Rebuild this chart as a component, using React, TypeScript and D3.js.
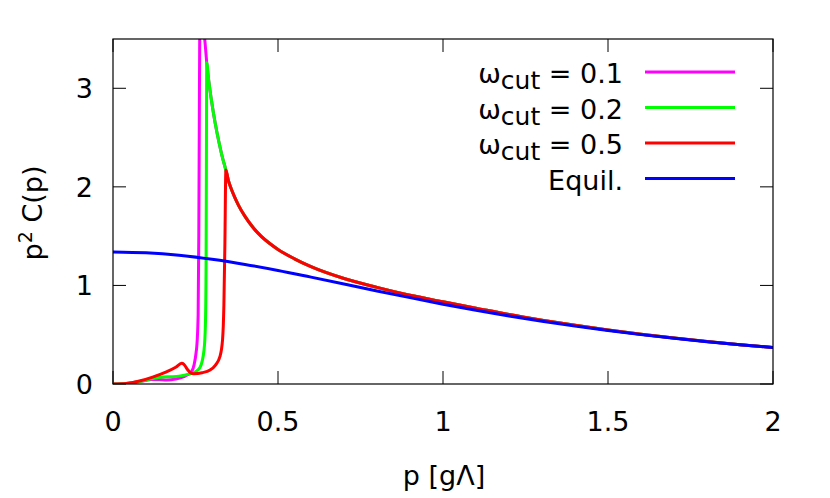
import React from 'react';
import * as d3 from 'd3';

const width = 830;
const height = 498;
const margin = { left: 113, right: 57, top: 39, bottom: 114 };

const xTicks = [0, 0.5, 1, 1.5, 2];
const yTicks = [0, 1, 2, 3];

// shared tail (all cut-off curves fall onto this after p ~ 0.34)
const tailP = [0.342, 0.35, 0.36, 0.37, 0.38, 0.4, 0.425, 0.45, 0.475, 0.5, 0.55, 0.6, 0.7, 0.8, 0.9, 1.0, 1.1, 1.2, 1.3, 1.4, 1.5, 1.6, 1.7, 1.8, 1.9, 2.0];
const tailC = [2.17, 2.06, 1.965, 1.885, 1.815, 1.7, 1.585, 1.495, 1.425, 1.365, 1.27, 1.19, 1.07, 0.98, 0.9, 0.835, 0.77, 0.705, 0.648, 0.595, 0.547, 0.504, 0.466, 0.431, 0.399, 0.37];

// green decay between its peak and the red peak
const midP = [0.29, 0.3, 0.31, 0.32, 0.33];
const midC = [3.08, 2.84, 2.64, 2.47, 2.32];

const p01 = [0, 0.04, 0.08, 0.12, 0.14, 0.162, 0.19, 0.215, 0.238, 0.253, 0.258, 0.26, 0.262, 0.265, 0.27, 0.276, 0.28, 0.284];
const c01 = [0, 0.005, 0.025, 0.045, 0.045, 0.04, 0.05, 0.075, 0.125, 0.35, 0.7, 1.5, 3.0, 4.5, 4.2, 3.6, 3.42, 3.26];

const p02 = [0, 0.04, 0.08, 0.12, 0.15, 0.178, 0.2, 0.23, 0.25, 0.264, 0.276, 0.28, 0.282, 0.283, 0.284];
const c02 = [0, 0.005, 0.025, 0.055, 0.07, 0.074, 0.08, 0.1, 0.125, 0.17, 0.35, 0.6, 1.2, 2.2, 3.26];

const p05 = [0, 0.04, 0.08, 0.12, 0.16, 0.19, 0.208, 0.215, 0.225, 0.235, 0.245, 0.27, 0.294, 0.31, 0.324, 0.332, 0.336, 0.339];
const c05 = [0, 0.005, 0.03, 0.07, 0.12, 0.17, 0.21, 0.2, 0.15, 0.115, 0.105, 0.115, 0.142, 0.19, 0.277, 0.45, 0.8, 1.4];

const pEq = [0, 0.1, 0.2, 0.3, 0.4, 0.5, 0.6, 0.7, 0.8, 0.9, 1.0, 1.1, 1.2, 1.3, 1.4, 1.5, 1.6, 1.7, 1.8, 1.9, 2.0];
const cEq = [1.34, 1.331, 1.306, 1.265, 1.213, 1.152, 1.084, 1.015, 0.944, 0.876, 0.81, 0.748, 0.69, 0.636, 0.587, 0.542, 0.501, 0.464, 0.429, 0.398, 0.37];

const cutLabels = ['0.1', '0.2', '0.5'];
const colors = ['#ff00ff', '#00ff00', '#ff0000', '#0000ff'];

const zip = (ps: number[], cs: number[]) => ps.map((p, i) => [p, cs[i]] as [number, number]);

const series = [
  zip([...p01, ...midP, ...tailP], [...c01, ...midC, ...tailC]),
  zip([...p02, ...midP, ...tailP], [...c02, ...midC, ...tailC]),
  zip([...p05, ...tailP], [...c05, ...tailC]),
  zip(pEq, cEq),
];

const font = 'DejaVu Sans';

export default function App() {
  const x = d3.scaleLinear().domain([0, 2]).range([margin.left, width - margin.right]);
  const y = d3.scaleLinear().domain([0, 3.5]).range([height - margin.bottom, margin.top]);

  const line = d3.line<[number, number]>()
    .x(d => x(d[0]))
    .y(d => y(d[1]))
    .curve(d3.curveMonotoneX);

  const x0 = x(0), x1 = x(2), y0 = y(0), y1 = y(3.5);
  const tick = 13;

  return (
    <svg width={width} height={height} style={{ position: 'absolute', left: 0, top: 0 }} fontFamily={font}>
      <rect width={width} height={height} fill="#fff" />
      <defs>
        <clipPath id="plot">
          <rect x={x0} y={y1} width={x1 - x0} height={y0 - y1} />
        </clipPath>
      </defs>

      {xTicks.map(t => (
        <g key={'x' + t}>
          <line x1={x(t)} x2={x(t)} y1={y0} y2={y0 - tick} stroke="#000" />
          <line x1={x(t)} x2={x(t)} y1={y1} y2={y1 + tick} stroke="#000" />
          <text x={x(t)} y={431} fontSize={27} textAnchor="middle">{t}</text>
        </g>
      ))}
      {yTicks.map(t => (
        <g key={'y' + t}>
          <line x1={x0} x2={x0 + tick} y1={y(t)} y2={y(t)} stroke="#000" />
          <line x1={x1} x2={x1 - tick} y1={y(t)} y2={y(t)} stroke="#000" />
          <text x={93} y={y(t) + 10} fontSize={27} textAnchor="end">{t}</text>
        </g>
      ))}

      <g clipPath="url(#plot)">
        {series.map((s, i) => (
          <path key={i} d={line(s) || ''} fill="none" stroke={colors[i]} strokeWidth={3} strokeLinejoin="round" />
        ))}
      </g>

      <rect x={x0} y={y1} width={x1 - x0} height={y0 - y1} fill="none" stroke="#000" strokeWidth={1.2} />

      {[...cutLabels, 'Equil.'].map((lab, i) => {
        const ly = 72 + i * 35.5;
        return (
          <g key={lab}>
            {i < 3 ? (
              <text x={623} y={ly + 11} fontSize={27} textAnchor="end">
                ω<tspan fontSize={25} dy={6}>cut</tspan>
                <tspan dy={-6}> = {lab}</tspan>
              </text>
            ) : (
              <text x={623} y={ly + 11} fontSize={27} textAnchor="end">{lab}</text>
            )}
            <line x1={645} x2={735} y1={ly} y2={ly} stroke={colors[i]} strokeWidth={3} />
          </g>
        );
      })}

      <text x={444} y={485} fontSize={27} textAnchor="middle">p [gΛ]</text>
      <text transform="translate(42,213) rotate(-90)" fontSize={27} textAnchor="middle">
        p<tspan fontSize={19} dy={-10}>2</tspan><tspan dy={10}> C(p)</tspan>
      </text>
    </svg>
  );
}
